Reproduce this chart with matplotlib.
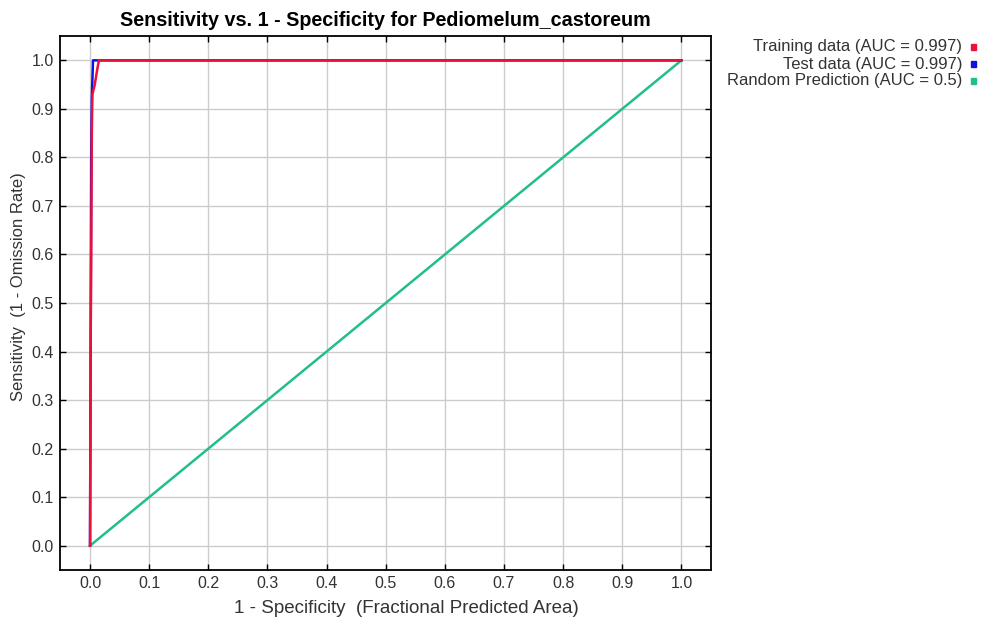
import matplotlib
matplotlib.use("Agg")
import matplotlib.pyplot as plt

plt.rcParams['font.family'] = ['Liberation Sans', 'DejaVu Sans']

# Data
train_fpr = [0.0, 0.001, 0.002, 0.003, 0.004, 0.008, 0.012, 0.015, 0.2, 0.5, 1.0]
train_tpr = [0.0, 0.4, 0.6, 0.85, 0.93, 0.95, 0.98, 1.0, 1.0, 1.0, 1.0]
test_fpr = [0.0, 0.001, 0.002, 0.003, 0.005, 1.0]
test_tpr = [0.0, 0.4, 0.8, 0.92, 1.0, 1.0]
rand_fpr = [0.0, 1.0]
rand_tpr = [0.0, 1.0]
ticks = [0.0, 0.1, 0.2, 0.3, 0.4, 0.5, 0.6, 0.7, 0.8, 0.9, 1.0]
labels = ["Training data (AUC = 0.997)", "Test data (AUC = 0.997)", "Random Prediction (AUC = 0.5)"]
colors = ["#e8123a", "#1010e0", "#22bf88"]

fig = plt.figure(figsize=(9.88, 6.22), dpi=100)
ax = fig.add_axes([0.0612, 0.0836, 0.6584, 0.8584])

ax.plot(rand_fpr, rand_tpr, color=colors[2], lw=1.8, zorder=3)
ax.plot(test_fpr, test_tpr, color=colors[1], lw=1.8, zorder=4)
ax.plot(train_fpr, train_tpr, color=colors[0], lw=1.8, zorder=5)

ax.set_xlim(-0.05, 1.05)
ax.set_ylim(-0.05, 1.05)
ax.set_xticks(ticks)
ax.set_yticks(ticks)
ax.set_xticklabels([f"{t:.1f}" for t in ticks])
ax.set_yticklabels([f"{t:.1f}" for t in ticks])
ax.tick_params(direction='in', length=4, width=1, top=True, right=True,
               labelsize=11.5, colors='black', labelcolor='#333333')
ax.tick_params(axis='x', pad=4)
ax.tick_params(axis='y', pad=5)
ax.grid(True, color='#cccccc', lw=1)
ax.set_axisbelow(True)
for s in ax.spines.values():
    s.set_linewidth(1.3)

ax.set_title("Sensitivity vs. 1 - Specificity for Pediomelum_castoreum",
             fontsize=14.2, fontweight='bold', pad=7)
ax.set_xlabel("1 - Specificity  (Fractional Predicted Area)", fontsize=13.5,
              color='#333333')
ax.xaxis.set_label_coords(0.531, -0.056)
ax.xaxis.label.set_va('top')
ax.set_ylabel("Sensitivity  (1 - Omission Rate)", fontsize=12, color='#333333')
ax.yaxis.set_label_coords(-0.064, 0.53)
ax.yaxis.label.set_va('center')

# Legend (right-aligned text with squares)
ys = [47, 64, 81]
for lab, c, y in zip(labels, colors, ys):
    fig.text(962 / 988, 1 - y / 622, lab, ha='right', va='center', fontsize=12,
             color='#333333')
    fig.patches.append(plt.Rectangle((971 / 988, 1 - (y + 2.5) / 622), 5 / 988, 5 / 622,
                                     transform=fig.transFigure, color=c, figure=fig))

fig.savefig("out.png", dpi=100)
